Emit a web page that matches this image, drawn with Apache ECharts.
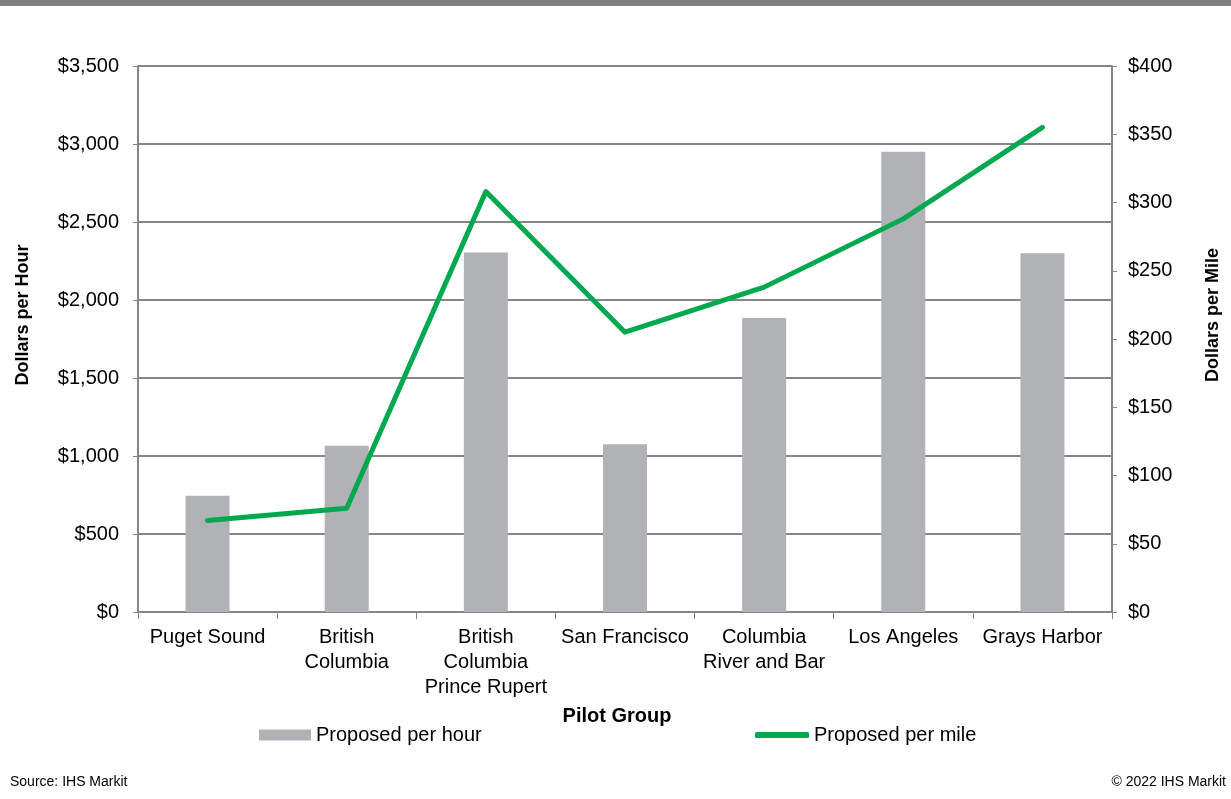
<!DOCTYPE html>
<html>
<head>
<meta charset="utf-8">
<script src="https://cdn.jsdelivr.net/npm/echarts@6/dist/echarts.min.js"></script>
<style>
html,body{margin:0;padding:0;background:#fff;}
#chart{width:1231px;height:799px;}
</style>
</head>
<body>
<div id="chart"></div>
<script>
const categories = ['Puget Sound', 'British\nColumbia', 'British\nColumbia\nPrince Rupert', 'San Francisco', 'Columbia\nRiver and Bar', 'Los Angeles', 'Grays Harbor'];
const perHour = [745, 1065, 2305, 1075, 1885, 2950, 2300];
const perMile = [67, 76, 308, 205, 238, 288, 355];
const seriesNames = ['Proposed per hour', 'Proposed per mile'];
const leftTicks = { min: 0, max: 3500, interval: 500 };
const rightTicks = { min: 0, max: 400, interval: 50 };

const FONT = '"Liberation Sans", Arial, sans-serif';
const GRID = '#868686';
const fmt = v => '$' + v.toLocaleString('en-US');

const chart = echarts.init(document.getElementById('chart'), null, { renderer: 'canvas' });
chart.setOption({
  animation: false,
  backgroundColor: '#ffffff',
  textStyle: { fontFamily: FONT, color: '#000' },
  grid: { left: 138, right: 119, top: 66, bottom: 187, containLabel: false },
  legend: [
    { data: [{ name: seriesNames[0], icon: 'rect' }], left: 259, top: 725, padding: 0,
      itemWidth: 52, itemHeight: 11, itemGap: 6,
      textStyle: { fontFamily: FONT, fontSize: 20, color: '#000' } },
    { data: [{ name: seriesNames[1], icon: 'roundRect', itemStyle: { color: '#00a84f' } }], left: 755, top: 725, padding: 0,
      itemWidth: 54, itemHeight: 6, itemGap: 6,
      textStyle: { fontFamily: FONT, fontSize: 20, color: '#000' } }
  ],
  xAxis: {
    type: 'category',
    data: categories,
    boundaryGap: true,
    name: 'Pilot Group',
    nameLocation: 'middle',
    nameGap: 94,
    nameTextStyle: { fontFamily: FONT, fontSize: 20, fontWeight: 'bold', color: '#000', padding: [0, 16, 0, 0] },
    axisLine: { lineStyle: { color: GRID, width: 2 } },
    axisTick: { show: true, length: 7, lineStyle: { color: GRID, width: 1 } },
    axisLabel: { fontFamily: FONT, fontSize: 20, color: '#000', margin: 13, lineHeight: 25, interval: 0 }
  },
  yAxis: [
    {
      type: 'value', min: leftTicks.min, max: leftTicks.max, interval: leftTicks.interval,
      name: 'Dollars per Hour', nameLocation: 'middle', nameGap: 106, nameRotate: 90,
      nameTextStyle: { fontFamily: FONT, fontSize: 18, fontWeight: 'bold', color: '#000', padding: [0, 0, 0, 48] },
      axisLine: { show: true, lineStyle: { color: GRID, width: 2 } },
      axisTick: { show: true, length: 5, lineStyle: { color: GRID, width: 1 } },
      axisLabel: { fontFamily: FONT, fontSize: 20, color: '#000', margin: 19, formatter: fmt },
      splitLine: { show: true, lineStyle: { color: GRID, width: 2 } }
    },
    {
      type: 'value', min: rightTicks.min, max: rightTicks.max, interval: rightTicks.interval,
      name: 'Dollars per Mile', nameLocation: 'middle', nameGap: 92, nameRotate: 90,
      nameTextStyle: { fontFamily: FONT, fontSize: 18, fontWeight: 'bold', color: '#000', padding: [0, 0, 0, 48] },
      axisLine: { show: true, lineStyle: { color: GRID, width: 2 } },
      axisTick: { show: true, length: 5, lineStyle: { color: GRID, width: 1 } },
      axisLabel: { fontFamily: FONT, fontSize: 20, color: '#000', margin: 16, formatter: fmt },
      splitLine: { show: false }
    }
  ],
  series: [
    {
      name: seriesNames[0], type: 'bar', yAxisIndex: 0, data: perHour,
      barWidth: 44, itemStyle: { color: '#b1b2b6' }
    },
    {
      name: seriesNames[1], type: 'line', yAxisIndex: 1, data: perMile,
      symbol: 'none', lineStyle: { color: '#00a84f', width: 5, cap: 'round', join: 'round' },
      itemStyle: { color: '#00a84f' }, z: 5
    }
  ],
  graphic: [
    { type: 'rect', left: 0, top: 0, shape: { width: 1231, height: 6 }, style: { fill: '#808080' }, silent: true },
    { type: 'text', left: 10, top: 775, style: { text: 'Source: IHS Markit', font: '14px "Liberation Sans", Arial, sans-serif', fill: '#000' } },
    { type: 'text', right: 5, top: 775, style: { text: '© 2022 IHS Markit', font: '14px "Liberation Sans", Arial, sans-serif', fill: '#000' } }
  ]
});
</script>
</body>
</html>
